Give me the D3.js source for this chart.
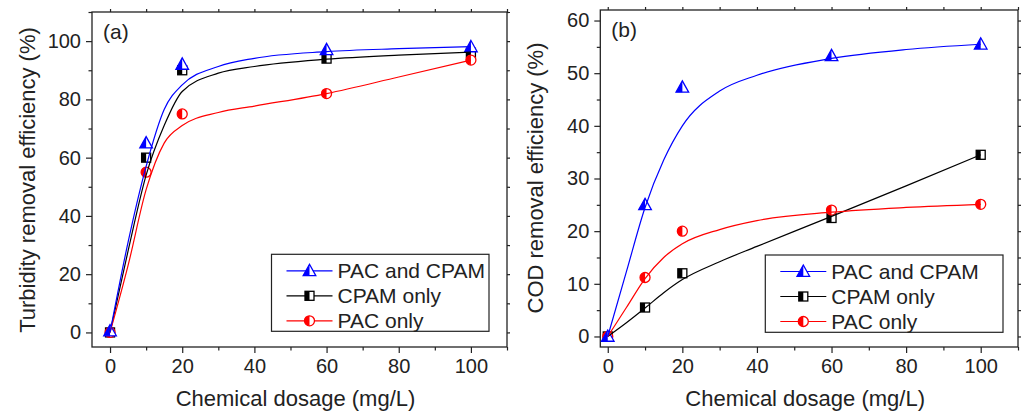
<!DOCTYPE html>
<html>
<head>
<meta charset="utf-8">
<script src="https://cdn.jsdelivr.net/npm/d3@7/dist/d3.min.js"></script>
<style>
  body { margin: 0; background: #fff; }
  svg { display: block; font-family: Arial, "Liberation Sans", sans-serif; }
  .axis path, .axis line { stroke: #222; }
  .axis text { fill: #222; }
</style>
</head>
<body>
<svg id="chart" width="1022" height="414"></svg>
<script>
// measured points
var dosage = [0, 10, 20, 60, 100];
var turbPacCpam = [0.5, 65, 92, 97, 98];
var turbCpam = [0, 60, 90, 94, 96];
var turbPac = [0, 55, 75, 82, 93.5];
var codPacCpam = [0, 25, 47.3, 53.3, 55.5];
var codCpam = [0, 5.5, 12, 22.5, 34.5];
var codPac = [0, 11.2, 20, 24, 25.1];

// fitted curves
var fitX = [0, 5, 10, 15, 20, 30, 40, 60, 80, 100];
var turbFitPacCpam = [0, 31, 57, 76.5, 85, 91.3, 94.1, 96.4, 97.4, 98.1];
var turbFitCpam = [0, 28, 54, 71, 82.7, 89, 91.3, 93.8, 95.2, 96.2];
var turbFitPac = [0, 23, 49, 65, 71, 75.5, 77.7, 82, 87.7, 93.5];
var codFitPacCpam = [0, 12.3, 24.5, 33.5, 40, 46.6, 49.6, 52.8, 54.5, 55.5];
var codFitCpam = [0, 2.6, 5.4, 8.3, 10.8, 14.2, 17.1, 22.8, 28.6, 34.5];
var codFitPac = [0, 5.5, 11, 15, 17.6, 20.3, 22, 23.6, 24.5, 25.1];

var seriesNames = ["PAC and CPAM", "CPAM only", "PAC only"];
var seriesColors = ["#0000ff", "#000000", "#ff0000"];
var seriesShapes = ["triangle", "square", "circle"];

var svg = d3.select("#chart");

function drawMarker(g, shape, color) {
    if (shape == "triangle") {
        g.append("path").attr("d", "M0,-6.5L6.3,4.8L-6.3,4.8Z")
            .attr("fill", "#fff").attr("stroke", color).attr("stroke-width", 1.3);
        g.append("path").attr("d", "M0,-6.5L0,4.8L-6.3,4.8Z").attr("fill", color);
    } else if (shape == "square") {
        g.append("rect").attr("x", -4.5).attr("y", -4.5).attr("width", 9).attr("height", 9)
            .attr("fill", "#fff").attr("stroke", color).attr("stroke-width", 1.3);
        g.append("rect").attr("x", -4.5).attr("y", -4.5).attr("width", 4.5).attr("height", 9)
            .attr("fill", color);
    } else {
        g.append("circle").attr("r", 5)
            .attr("fill", "#fff").attr("stroke", color).attr("stroke-width", 1.3);
        g.append("path").attr("d", "M0,-5A5,5 0 0 0 0,5Z").attr("fill", color);
    }
}

function drawPanel(p) {
    var x = d3.scaleLinear().domain(p.xDomain).range([p.left, p.right]);
    var y = d3.scaleLinear().domain(p.yDomain).range([p.bottom, p.top]);
    var g = svg.append("g");

    // frame and ticks
    g.append("rect")
        .attr("x", p.left).attr("y", p.top)
        .attr("width", p.right - p.left).attr("height", p.bottom - p.top)
        .attr("fill", "none").attr("stroke", "#222").attr("stroke-width", 1.3);

    var xMajor = d3.range(0, 101, 20);
    var xMinor = d3.range(10, 111, 20);
    var yMajor = p.yMajor;
    var yMinor = p.yMinor;

    g.append("g").attr("class", "axis")
        .attr("transform", "translate(0," + p.bottom + ")")
        .call(d3.axisBottom(x).tickValues(xMajor).tickSize(6).tickSizeOuter(0).tickPadding(6))
        .call(function(a) { a.select(".domain").remove(); })
        .selectAll("text").style("font-size", "20px");
    g.append("g").attr("class", "axis")
        .attr("transform", "translate(0," + p.bottom + ")")
        .call(d3.axisBottom(x).tickValues(xMinor).tickSize(3.5).tickSizeOuter(0).tickFormat(""))
        .call(function(a) { a.select(".domain").remove(); });
    g.append("g").attr("class", "axis")
        .attr("transform", "translate(0," + p.top + ")")
        .call(d3.axisTop(x).tickValues(xMajor.concat(xMinor)).tickSize(3).tickSizeOuter(0).tickFormat(""))
        .call(function(a) { a.select(".domain").remove(); });

    g.append("g").attr("class", "axis")
        .attr("transform", "translate(" + p.left + ",0)")
        .call(d3.axisLeft(y).tickValues(yMajor).tickSize(6).tickSizeOuter(0).tickPadding(5))
        .call(function(a) { a.select(".domain").remove(); })
        .selectAll("text").style("font-size", "20px");
    g.append("g").attr("class", "axis")
        .attr("transform", "translate(" + p.left + ",0)")
        .call(d3.axisLeft(y).tickValues(yMinor).tickSize(3.5).tickSizeOuter(0).tickFormat(""))
        .call(function(a) { a.select(".domain").remove(); });
    g.append("g").attr("class", "axis")
        .attr("transform", "translate(" + p.right + ",0)")
        .call(d3.axisRight(y).tickValues(yMajor.concat(yMinor)).tickSize(3).tickSizeOuter(0).tickFormat(""))
        .call(function(a) { a.select(".domain").remove(); });

    g.selectAll(".axis line").attr("stroke-width", 1.2);

    // axis titles
    g.append("text")
        .attr("x", (p.left + p.right) / 2 - 4).attr("y", 406)
        .attr("text-anchor", "middle").style("font-size", "22px").attr("fill", "#222")
        .text("Chemical dosage (mg/L)");
    g.append("g")
        .attr("transform", "translate(" + (p.left - 57) + "," + p.yTitleY + ")")
        .append("text").attr("transform", "rotate(-90)")
        .attr("text-anchor", "middle").style("font-size", "22px").attr("fill", "#222")
        .text(p.yTitle);

    g.append("text")
        .attr("x", p.left + 11).attr("y", p.top + 27)
        .style("font-size", "21px").attr("fill", "#222")
        .text(p.tag);

    var line = d3.line()
        .x(function(d) { return x(d[0]); })
        .y(function(d) { return y(d[1]); })
        .curve(d3.curveMonotoneX);

    // markers (black, red, then blue on top)
    [1, 2, 0].forEach(function(s) {
        p.points[s].forEach(function(v, i) {
            var m = g.append("g").attr("transform", "translate(" + x(dosage[i]) + "," + y(v) + ")");
            drawMarker(m, seriesShapes[s], seriesColors[s]);
        });
    });

    // fitted curves
    [1, 2, 0].forEach(function(s) {
        g.append("path")
            .datum(d3.zip(fitX, p.fits[s]))
            .attr("d", line)
            .attr("fill", "none")
            .attr("stroke", seriesColors[s])
            .attr("stroke-width", 1.2);
    });

    // legend
    var lg = g.append("g");
    lg.append("rect")
        .attr("x", p.legend[0]).attr("y", p.legend[1])
        .attr("width", p.legend[2]).attr("height", p.legend[3])
        .attr("fill", "#fff").attr("stroke", "#222").attr("stroke-width", 1.2);
    seriesNames.forEach(function(name, s) {
        var ry = p.legend[1] + 16.5 + s * 25;
        var lx = p.legend[0] + 15;
        lg.append("line")
            .attr("x1", lx).attr("x2", lx + 46)
            .attr("y1", ry).attr("y2", ry)
            .attr("stroke", seriesColors[s]).attr("stroke-width", 1.2);
        drawMarker(lg.append("g").attr("transform", "translate(" + (lx + 23) + "," + ry + ")"),
            seriesShapes[s], seriesColors[s]);
        lg.append("text")
            .attr("x", lx + 51).attr("y", ry + 7.5)
            .style("font-size", "21px").attr("fill", "#222")
            .text(name);
    });
}

drawPanel({
    left: 92, right: 507, top: 12, bottom: 347,
    xDomain: [-5, 110], yDomain: [-5, 110],
    yMajor: d3.range(0, 101, 20), yMinor: d3.range(10, 111, 20),
    yTitle: "Turbidity removal efficiency (%)", yTitleY: 180,
    tag: "(a)",
    points: [turbPacCpam, turbCpam, turbPac],
    fits: [turbFitPacCpam, turbFitCpam, turbFitPac],
    legend: [271.5, 254.3, 217.5, 77]
});

drawPanel({
    left: 600.3, right: 1018, top: 10, bottom: 347,
    xDomain: [-2, 110], yDomain: [-2, 62],
    yMajor: d3.range(0, 61, 10), yMinor: d3.range(5, 61, 10),
    yTitle: "COD removal efficiency (%)", yTitleY: 178,
    tag: "(b)",
    points: [codPacCpam, codCpam, codPac],
    fits: [codFitPacCpam, codFitCpam, codFitPac],
    legend: [765.3, 255, 237.7, 77.3]
});
</script>
</body>
</html>
